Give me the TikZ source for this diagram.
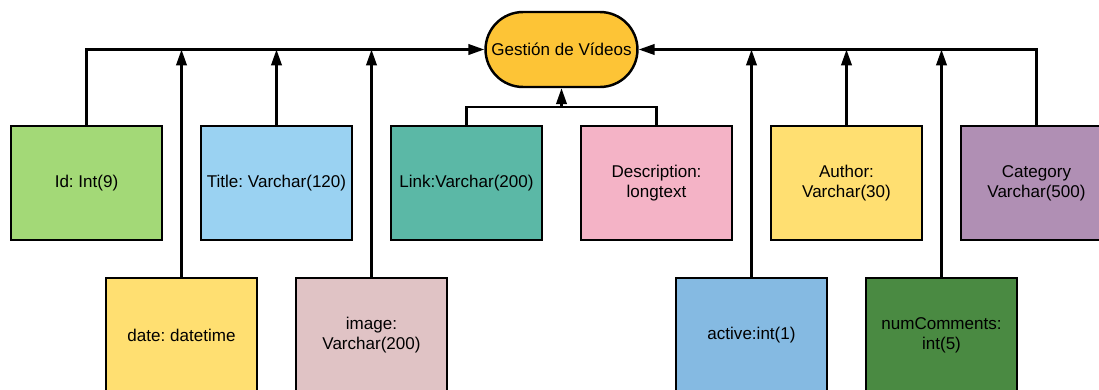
\documentclass[tikz,border=0pt]{standalone}
\usepackage{fontspec}
\setmainfont{Liberation Sans}
\usetikzlibrary{arrows.meta}
\frenchspacing

\definecolor{gvorange}{HTML}{FDC436}
\definecolor{idgreen}{HTML}{A3D977}
\definecolor{titleblue}{HTML}{9AD2F2}
\definecolor{linkteal}{HTML}{5BB8A6}
\definecolor{descpink}{HTML}{F4B3C6}
\definecolor{softyellow}{HTML}{FFDF71}
\definecolor{catpurple}{HTML}{B08FB4}
\definecolor{imagerose}{HTML}{E0C3C5}
\definecolor{activeblue}{HTML}{85BAE2}
\definecolor{ncomgreen}{HTML}{4A8A42}

\begin{document}
\begin{tikzpicture}[x=0.02cm, y=-0.02cm,
        field/.style={rectangle, draw, line width=1.4pt, minimum width=3.02cm, minimum height=2.28cm, align=center, font=\fontsize{9.7}{11.4}\selectfont},
        wire/.style={line width=1.4pt},
        arr/.style={wire, -{Triangle[length=0.32cm, width=0.21cm]}}]
        \useasboundingbox (0,0) rectangle (1099,389);
        \clip (0,0) rectangle (1099,389);

        \node[rectangle, draw, line width=1.4pt, rounded corners=0.75cm, fill=gvorange, minimum width=3.02cm, minimum height=1.5cm, font=\fontsize{9.7}{11.4}\selectfont] (gv) at (561.5,49.5) {Gestión de Vídeos};

        \node[field, fill=idgreen] (id) at (86.5,183) {Id: Int(9)};
        \node[field, fill=titleblue] (title) at (276.5,183) {Title: Varchar(120)};
        \node[field, fill=linkteal] (lnk) at (466.5,183) {Link:Varchar(200)};
        \node[field, fill=descpink] (desc) at (656.5,183) {Description:\\longtext};
        \node[field, fill=softyellow] (author) at (846.5,183) {Author:\\Varchar(30)};
        \node[field, fill=catpurple] (cat) at (1036.5,183) {Category\\Varchar(500)};

        \node[field, fill=softyellow] (date) at (181.5,335) {date: datetime};
        \node[field, fill=imagerose] (image) at (371.5,335) {image:\\Varchar(200)};
        \node[field, fill=activeblue] (active) at (751.5,335) {active:int(1)};
        \node[field, fill=ncomgreen] (ncom) at (941.5,335) {numComments:\\int(5)};

        \coordinate (ld) at (561.5,107);

        \draw[arr] (id.north) |- (gv.west);
        \draw[arr] (cat.north) |- (gv.east);
        \draw[arr] (date.north) -- (date.north |- gv.west);
        \draw[arr] (title.north) -- (title.north |- gv.west);
        \draw[arr] (image.north) -- (image.north |- gv.west);
        \draw[arr] (active.north) -- (active.north |- gv.east);
        \draw[arr] (author.north) -- (author.north |- gv.east);
        \draw[arr] (ncom.north) -- (ncom.north |- gv.east);
        \draw[wire] (lnk.north) |- (ld) -| (desc.north);
        \draw[arr] (ld) -- (gv.south);
    \end{tikzpicture}
\end{document}
